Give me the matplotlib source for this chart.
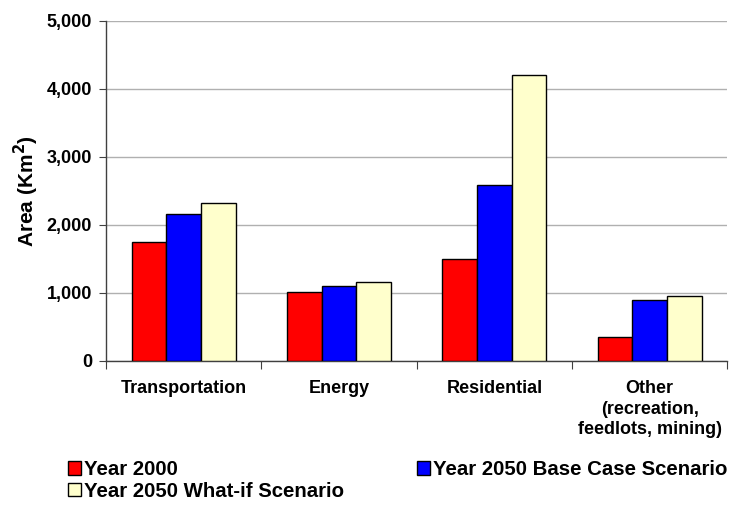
import numpy as np
import matplotlib.pyplot as plt
from matplotlib.ticker import FuncFormatter

categories = ["Transportation", "Energy", "Residential",
              "Other\n(recreation,\nfeedlots, mining)"]
year_2000 = [1745, 1020, 1505, 345]
base_2050 = [2155, 1095, 2580, 890]
whatif_2050 = [2320, 1165, 4205, 960]
series_names = ["Year 2000", "Year 2050 Base Case Scenario", "Year 2050 What-if Scenario"]
colors = ["#ff0000", "#0000ff", "#ffffcc"]

plt.rcParams['font.family'] = ['Liberation Sans', 'DejaVu Sans']
plt.rcParams['font.weight'] = 'bold'

fig = plt.figure(figsize=(7.31, 5.09), dpi=100)
ax = fig.add_axes([0.145, 0.291, 0.850, 0.668])

x = np.arange(len(categories))
w = 0.223
handles = []
for i, (vals, c, name) in enumerate(zip([year_2000, base_2050, whatif_2050], colors, series_names)):
    b = ax.bar(x + (i - 1) * w, vals, w, color=c, edgecolor='black', linewidth=1.0,
               label=name, zorder=3)
    handles.append(b)

ax.set_xlim(-0.5, len(categories) - 0.5)
ax.set_ylim(0, 5000)
ax.set_yticks(np.arange(0, 5001, 1000))
ax.yaxis.set_major_formatter(FuncFormatter(lambda v, p: f"{int(v):,}"))
ax.grid(axis='y', color='#b0b0b0', linewidth=1.0, zorder=0)

ax.set_xticks(np.arange(-0.5, len(categories), 1.0))
ax.set_xticklabels([])
ax.set_xticks(x, minor=True)
ax.set_xticklabels(categories, minor=True, fontsize=13, fontweight='bold', linespacing=1.3)
ax.tick_params(axis='x', which='minor', length=0, pad=13.5)
ax.tick_params(axis='x', which='major', length=6, direction='out', color='#404040')
ax.tick_params(axis='y', length=5, direction='out', labelsize=13, color='#404040', pad=5)
for lbl in ax.get_yticklabels():
    lbl.set_fontweight('bold')

for s in ['top', 'right']:
    ax.spines[s].set_visible(False)
for s in ['left', 'bottom']:
    ax.spines[s].set_color('#404040')
    ax.spines[s].set_linewidth(1.0)

ax.set_ylabel("Area (Km$^\\mathbf{2}$)", fontsize=15, fontweight='bold', labelpad=4)

# legend rows: Year 2000 | Base Case, then What-if below Year 2000
order = [0, 2, 1]
fig.legend(handles=[handles[i] for i in order], labels=[series_names[i] for i in order],
           loc='upper left', bbox_to_anchor=(0.093, 0.096), ncol=2, frameon=False,
           prop={'size': 14.7, 'weight': 'bold'}, handlelength=0.65, handleheight=0.65,
           handletextpad=0.15, columnspacing=3.55, labelspacing=0.12,
           borderaxespad=0, borderpad=0)

fig.savefig("out.png", dpi=100)
